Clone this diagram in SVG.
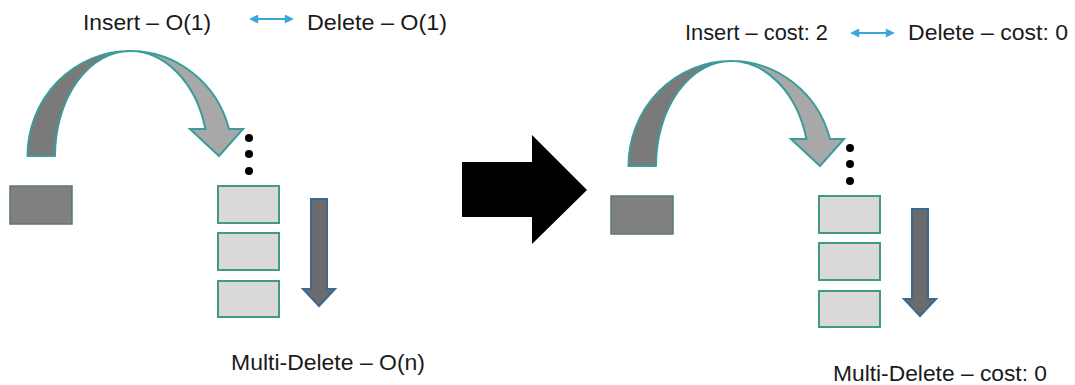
<svg xmlns="http://www.w3.org/2000/svg" width="1075" height="385" viewBox="0 0 1075 385">
  <defs>
    <style>
      .lbl { font-family: "Liberation Sans", Arial, sans-serif; font-size: 22px; fill: #1a1a1a; }
      .band-dark { fill: #7a7a7a; stroke: #3c9c9b; stroke-width: 2; stroke-linejoin: round; }
      .band-light { fill: #a8a8a8; stroke: #3c9c9b; stroke-width: 2; stroke-linejoin: miter; }
      .item { fill: #808080; stroke: #5a7878; stroke-width: 1.5; }
      .slot { fill: #d9d9d9; stroke: #439c78; stroke-width: 2; }
      .drop { fill: #6b6b6b; stroke: #3b6890; stroke-width: 2; stroke-linejoin: miter; }
      .dot { fill: #000; }
      .swap { stroke: #3aa6dd; stroke-width: 2; fill: none; }
    </style>
    <marker id="tip" viewBox="0 0 10 10" refX="8" refY="5" markerWidth="10" markerHeight="9" markerUnits="userSpaceOnUse" orient="auto-start-reverse">
      <path d="M0,0 L10,5 L0,10 Z" fill="#3aa6dd"/>
    </marker>
  </defs>

  <rect width="1075" height="385" fill="#fff"/>

  <!-- before: O(1) insert / delete, O(n) multi-delete -->
  <g id="before">
    <g id="before-labels">
      <text class="lbl" x="83" y="30" textLength="128" lengthAdjust="spacingAndGlyphs">Insert – O(1)</text>
      <text class="lbl" x="307" y="30" textLength="140" lengthAdjust="spacingAndGlyphs">Delete – O(1)</text>
      <text class="lbl" x="231" y="370" textLength="194" lengthAdjust="spacingAndGlyphs">Multi-Delete – O(n)</text>
    </g>
    <g id="before-item">
      <rect class="item" x="10" y="186" width="62" height="38"/>
    </g>
    <g id="before-stack">
      <circle class="dot" cx="249" cy="138" r="4"/>
      <circle class="dot" cx="249" cy="154" r="4"/>
      <circle class="dot" cx="249" cy="171" r="4"/>
      <rect class="slot" x="218" y="186" width="61" height="37"/>
      <rect class="slot" x="218" y="233" width="61" height="37"/>
      <rect class="slot" x="218" y="281" width="61" height="36"/>
    </g>
    <g id="before-connectors">
      <line class="swap" x1="251" y1="19" x2="292" y2="19" marker-start="url(#tip)" marker-end="url(#tip)"/>
      <path class="band-dark" d="M27.5,156 A102.5,105 0 0 1 130,51 A75,105 0 0 0 55,156 Z"/>
      <path class="band-light" d="M130,51 A102.5,105 0 0 1 229,129 L243,129 L219,156 L190,129 L205.4,129 A78,105 0 0 0 130,51 Z"/>
      <polygon class="drop" points="311,199 327,199 327,289 335,289 319,306 303,289 311,289"/>
    </g>
  </g>

  <!-- transition arrow -->
  <g id="transition">
    <polygon points="462,162 532,162 532,135 587,190 532,244 532,217 462,217" fill="#000"/>
  </g>

  <!-- after: amortised costs -->
  <g id="after">
    <g id="after-labels">
      <text class="lbl" x="685" y="40" textLength="143" lengthAdjust="spacingAndGlyphs">Insert – cost: 2</text>
      <text class="lbl" x="908" y="40" textLength="160" lengthAdjust="spacingAndGlyphs">Delete – cost: 0</text>
      <text class="lbl" x="833" y="381" textLength="214" lengthAdjust="spacingAndGlyphs">Multi-Delete – cost: 0</text>
    </g>
    <g id="after-item" transform="translate(601,10)">
      <rect class="item" x="10" y="186" width="62" height="38"/>
    </g>
    <g id="after-stack" transform="translate(601,10)">
      <circle class="dot" cx="249" cy="138" r="4"/>
      <circle class="dot" cx="249" cy="154" r="4"/>
      <circle class="dot" cx="249" cy="171" r="4"/>
      <rect class="slot" x="218" y="186" width="61" height="37"/>
      <rect class="slot" x="218" y="233" width="61" height="37"/>
      <rect class="slot" x="218" y="281" width="61" height="36"/>
    </g>
    <g id="after-connectors" transform="translate(601,10)">
      <line class="swap" x1="251" y1="23" x2="292" y2="23" marker-start="url(#tip)" marker-end="url(#tip)"/>
      <path class="band-dark" d="M27.5,156 A102.5,105 0 0 1 130,51 A75,105 0 0 0 55,156 Z"/>
      <path class="band-light" d="M130,51 A102.5,105 0 0 1 229,129 L243,129 L219,156 L190,129 L205.4,129 A78,105 0 0 0 130,51 Z"/>
      <polygon class="drop" points="311,199 327,199 327,289 335,289 319,306 303,289 311,289"/>
    </g>
  </g>
</svg>
